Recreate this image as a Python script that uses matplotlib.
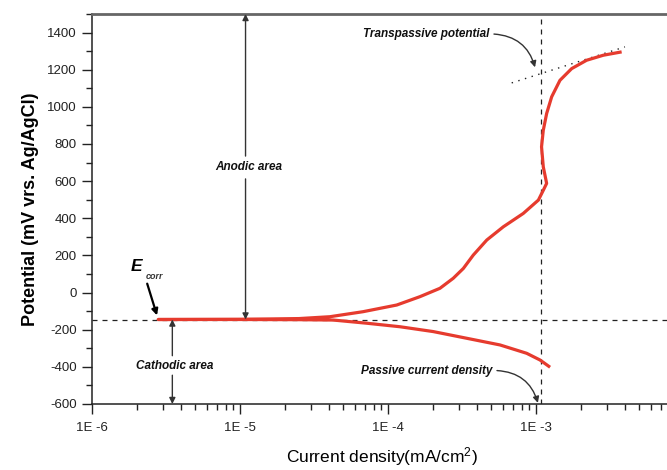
import numpy as np
import matplotlib.pyplot as plt
from matplotlib.ticker import FixedLocator, MultipleLocator, LogLocator, NullFormatter

plt.rcParams['font.family'] = ['Liberation Sans', 'DejaVu Sans']
plt.rcParams['axes.unicode_minus'] = False
plt.rcParams['mathtext.default'] = 'regular'

# polarization scan, cathodic end -> Ecorr -> anodic end
cath_i = [1.245e-3, 1.064e-3, 8.65e-4, 5.71e-4, 3.40e-4, 2.02e-4, 1.205e-4,
          7.18e-5, 4.27e-5, 2.5e-5, 1.0e-5, 2.8e-6]
cath_E = [-402, -363, -327, -282, -246, -210, -184, -165, -148, -146, -145, -145]

anod_i = [2.8e-6, 1.0e-5, 2.5e-5, 4.05e-5, 6.78e-5, 1.146e-4, 1.644e-4, 2.244e-4,
          2.76e-4, 3.23e-4, 3.77e-4, 4.65e-4, 6.01e-4, 8.20e-4, 1.038e-3, 1.122e-3,
          1.18e-3, 1.12e-3, 1.09e-3, 1.12e-3, 1.18e-3, 1.276e-3, 1.452e-3, 1.742e-3,
          2.198e-3, 2.85e-3, 3.79e-3]
anod_E = [-145, -144, -140, -130, -103, -67, -22, 23, 77, 130, 202, 283, 354, 426,
          498, 552, 588, 677, 785, 874, 964, 1054, 1143, 1206, 1251, 1278, 1296]

E_corr = -145
i_pass = 1.08e-3
tangent_i = [6.85e-4, 3.99e-3]
tangent_E = [1129, 1323]

x_ticks = [1e-6, 1e-5, 1e-4, 1e-3]
x_labels = ['1E -6', '1E -5', '1E -4', '1E -3']
y_ticks = list(range(-600, 1401, 200))

fig = plt.figure(figsize=(6.67, 4.70), dpi=100)
ax = fig.add_axes([92 / 667, 66 / 470, 592 / 667, 390 / 470])

red = '#e63b2e'
ax.plot(cath_i + anod_i[1:], cath_E + anod_E[1:], color=red, lw=2.3,
        solid_capstyle='butt', solid_joinstyle='round', zorder=3)

ax.axhline(E_corr, color='#222222', lw=0.9, ls=(0, (4, 4)), zorder=2)
ax.axvline(i_pass, color='#222222', lw=0.9, ls=(0, (4, 4)), zorder=2)
ax.plot(tangent_i, tangent_E, color='#222222', lw=1.0, ls=(0, (1, 4)), zorder=2)

ax.set_xscale('log')
ax.set_xlim(1e-6, 1e-2)
ax.set_ylim(-600, 1500)

ax.xaxis.set_major_locator(FixedLocator(x_ticks))
ax.set_xticklabels(x_labels)
ax.xaxis.set_minor_locator(LogLocator(base=10, subs=np.arange(2, 10)))
ax.xaxis.set_minor_formatter(NullFormatter())
ax.yaxis.set_major_locator(FixedLocator(y_ticks))
ax.yaxis.set_minor_locator(MultipleLocator(100))

ax.tick_params(which='major', direction='out', length=7, width=1, labelsize=9.5,
               colors='#222222', pad=4)
ax.tick_params(which='minor', direction='out', length=4, width=1, colors='#222222')
ax.tick_params(axis='x', which='major', pad=6)

ax.spines['right'].set_visible(False)
ax.spines['top'].set_color('#666666')
ax.spines['top'].set_linewidth(2)
for s in ('left', 'bottom'):
    ax.spines[s].set_color('#222222')
    ax.spines[s].set_linewidth(1.1)

ax.set_ylabel('Potential (mV vrs. Ag/AgCl)', fontsize=13, fontweight='bold',
              labelpad=6)
ax.set_xlabel('Current density(mA/cm$^2$)', fontsize=12.5)
ax.xaxis.set_label_coords(0.49, -0.105)

lab = dict(fontsize=8.5, fontweight='bold', fontstyle='italic', color='#111111')
arr = dict(arrowstyle='-|>', color='#333333', lw=1.0, mutation_scale=9,
           shrinkA=0, shrinkB=0)

# anodic area
ax.text(1.15e-5, 677, 'Anodic area', ha='center', va='center', **lab)
ax.annotate('', xy=(1.09e-5, 1500), xytext=(1.09e-5, 735), arrowprops=arr)
ax.annotate('', xy=(1.09e-5, E_corr), xytext=(1.09e-5, 612), arrowprops=arr)

# cathodic area
ax.text(3.6e-6, -394, 'Cathodic area', ha='center', va='center', **lab)
ax.annotate('', xy=(3.49e-6, E_corr), xytext=(3.49e-6, -340), arrowprops=arr)
ax.annotate('', xy=(3.49e-6, -600), xytext=(3.49e-6, -445), arrowprops=arr)

# Ecorr
ax.text(2.0e-6, 139, 'E', ha='center', va='center', fontsize=12.5,
        fontweight='bold', fontstyle='italic')
ax.text(2.65e-6, 89, 'corr', ha='center', va='center', fontsize=6.5,
        fontstyle='italic', fontweight='bold', color='#333333')
ax.annotate('', xy=(2.75e-6, -123), xytext=(2.36e-6, 48),
            arrowprops=dict(arrowstyle='-|>', color='black', lw=1.6,
                            mutation_scale=9, shrinkA=0, shrinkB=0))

# transpassive potential
ax.text(4.85e-4, 1395, 'Transpassive potential', ha='right', va='center', **lab)
ax.annotate('', xy=(9.85e-4, 1213), xytext=(5.2e-4, 1392),
            arrowprops=dict(arr, connectionstyle='arc3,rad=-0.35'))

# passive current density
ax.text(5.1e-4, -420, 'Passive current density', ha='right', va='center', **lab)
ax.annotate('', xy=(1.03e-3, -594), xytext=(5.45e-4, -420),
            arrowprops=dict(arr, connectionstyle='arc3,rad=-0.35'))

fig.savefig('out.png', dpi=100)
